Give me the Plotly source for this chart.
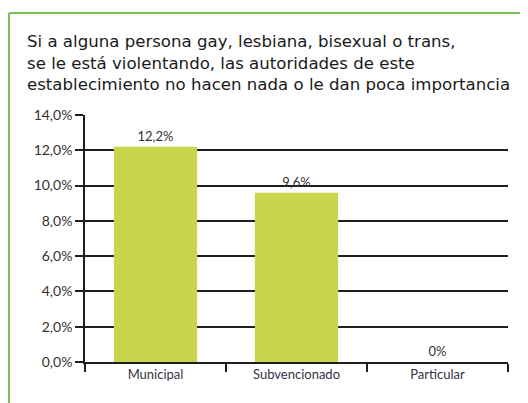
import plotly.graph_objects as go

categories = ["Municipal", "Subvencionado", "Particular"]
values = [12.2, 9.6, 0.0]
value_labels = ["12,2%", "9,6%", "0%"]
tick_vals = [0, 2, 4, 6, 8, 10, 12, 14]
tick_text = ["0,0%", "2,0%", "4,0%", "6,0%", "8,0%", "10,0%", "12,0%", "14,0%"]
title_lines = [
    "Si a alguna persona gay, lesbiana, bisexual o trans,",
    "se le está violentando, las autoridades de este",
    "establecimiento no hacen nada o le dan poca importancia",
]

W, H = 528, 403
OFF = 8  # browser page margin around the figure
PL, PR, PT, PB = 85, 508, 115, 362  # target plot-area edges in the screenshot
L, T = PL - OFF, PT - OFF
pw, ph = PR - PL, PB - PT
R = W - L - pw
B = H - T - ph

def px(x):  # screenshot x -> paper
    return (x - OFF - L) / pw

def py(y):  # screenshot y -> paper
    return (T + ph - (y - OFF)) / ph

font_ticks = "Lato, Roboto, sans-serif"
border = dict(color="#78c257", width=2)

fig = go.Figure(go.Bar(
    x=categories, y=values,
    marker=dict(color="#c8d54d", line=dict(width=0)),
    text=value_labels, textposition="outside", cliponaxis=False,
    textfont=dict(family=font_ticks, size=13, color="#333333"),
    width=0.59,
))

fig.update_layout(
    width=W, height=H,
    margin=dict(l=L, r=R, t=T, b=B, autoexpand=False),
    paper_bgcolor="white", plot_bgcolor="white",
    showlegend=False,
    xaxis=dict(
        automargin=False,
        showgrid=False, showline=True, linecolor="#1e1e1e", linewidth=1.5,
        ticks="outside", tickson="boundaries", ticklen=8, tickwidth=1.5, tickcolor="#1e1e1e",
        tickfont=dict(family=font_ticks, size=13, color="#333344"),
    ),
    yaxis=dict(
        automargin=False,
        range=[0, 14], tickvals=tick_vals, ticktext=tick_text,
        showgrid=True, gridcolor="#1e1e1e", gridwidth=1.6,
        showline=True, linecolor="#1e1e1e", linewidth=1.6,
        ticks="outside", ticklen=8, tickwidth=1.5, tickcolor="#1e1e1e",
        tickfont=dict(family=font_ticks, size=14, color="#333333"),
        zeroline=False,
    ),
    shapes=[
        dict(type="line", xref="paper", yref="paper",
             x0=px(9), x1=px(540), y0=py(13), y1=py(13), line=border),
        dict(type="line", xref="paper", yref="paper",
             x0=px(9), x1=px(9), y0=py(13), y1=py(420), line=border),
    ],
    annotations=[dict(
        xref="paper", yref="paper", x=px(25), y=py(63),
        xanchor="left", yanchor="middle", align="left", showarrow=False,
        text="<br>".join(title_lines),
        font=dict(family="DejaVu Sans", size=16.6, color="#1a1a1a"),
    )],
)

fig.write_html("out.html")
